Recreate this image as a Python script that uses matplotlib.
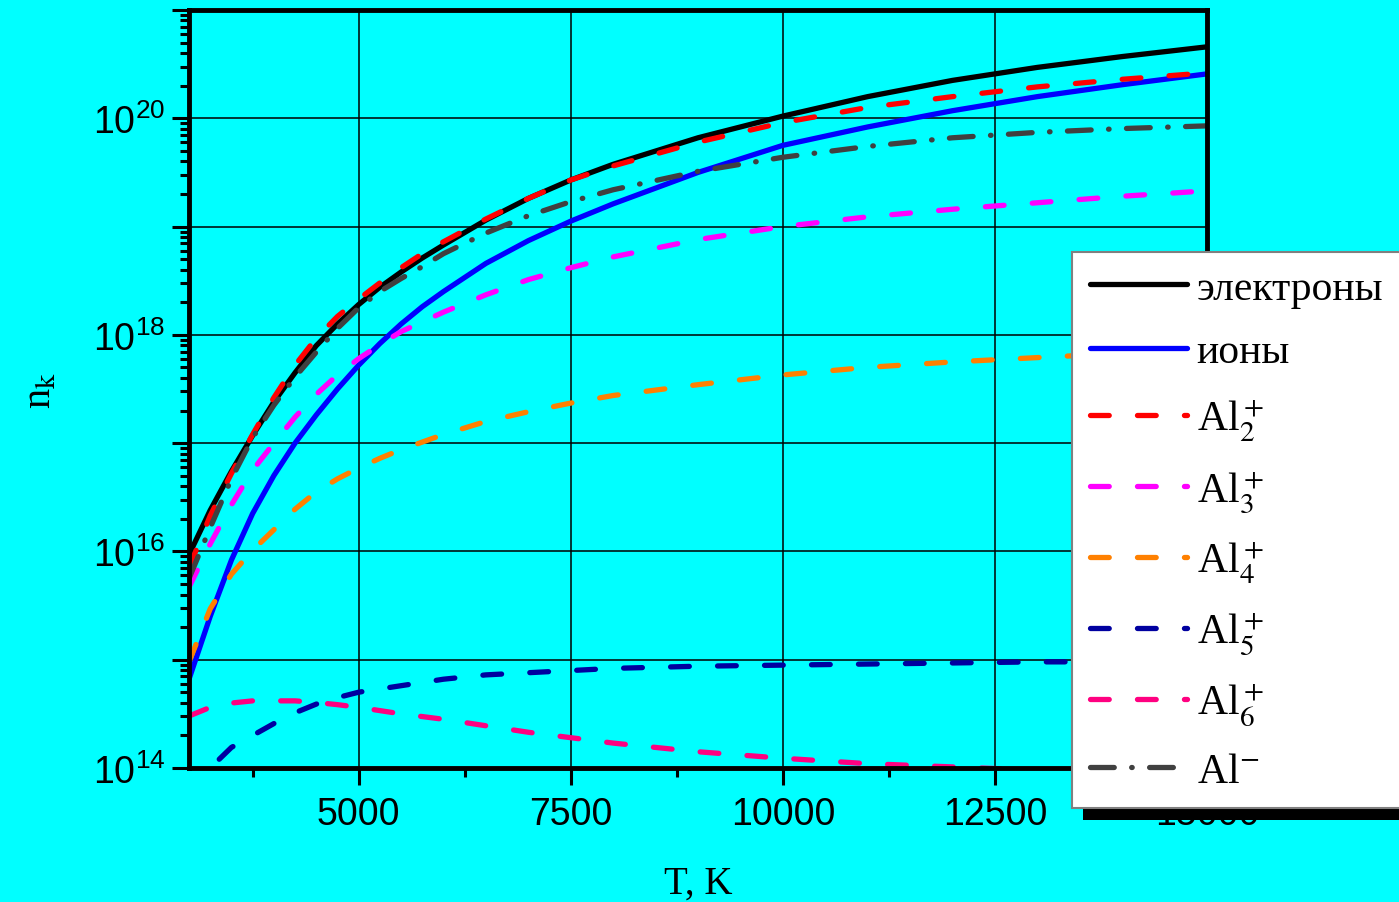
import numpy as np
import matplotlib
matplotlib.use('Agg')
import matplotlib.pyplot as plt
from matplotlib.ticker import FixedLocator, LogLocator, FuncFormatter, NullFormatter
from matplotlib.patches import Rectangle

# Temperature grid, K (denser where the curves bend most)
T = [3000, 3250, 3500, 3750, 4000, 4250, 4500, 4750, 5000, 5250, 5500, 5750, 6000,
     6500, 7000, 7500, 8000, 9000, 10000, 11000, 12000, 13000, 14000, 15000]

# lg(n_k) for every component
lg_electrons = [15.97, 16.38, 16.74, 17.07, 17.38, 17.65, 17.90, 18.10, 18.28, 18.44, 18.58, 18.71, 18.83,
                19.06, 19.26, 19.43, 19.575, 19.82, 20.02, 20.20, 20.35, 20.47, 20.57, 20.66]
lg_ions = [14.82, 15.40, 15.92, 16.35, 16.70, 17.00, 17.26, 17.50, 17.72, 17.92, 18.10, 18.26, 18.40,
           18.66, 18.87, 19.05, 19.21, 19.50, 19.75, 19.92, 20.07, 20.20, 20.31, 20.41]
lg_al2 = [15.85, 16.33, 16.72, 17.08, 17.42, 17.72, 17.97, 18.17, 18.33, 18.48, 18.62, 18.75, 18.86,
          19.07, 19.26, 19.43, 19.56, 19.78, 19.96, 20.10, 20.20, 20.29, 20.36, 20.42]
lg_al3 = [15.67, 16.07, 16.43, 16.75, 17.00, 17.24, 17.45, 17.63, 17.78, 17.91, 18.03, 18.12, 18.21,
          18.37, 18.51, 18.62, 18.72, 18.88, 19.00, 19.09, 19.16, 19.22, 19.28, 19.33]
lg_al4 = [14.98, 15.47, 15.79, 16.01, 16.20, 16.39, 16.55, 16.67, 16.77, 16.86, 16.94, 17.01, 17.08,
          17.20, 17.29, 17.37, 17.44, 17.54, 17.63, 17.70, 17.75, 17.79, 17.83, 17.86]
lg_al5 = [13.75, 14.00, 14.19, 14.30, 14.41, 14.51, 14.59, 14.65, 14.70, 14.73, 14.76, 14.79, 14.82,
          14.86, 14.88, 14.90, 14.92, 14.94, 14.95, 14.96, 14.97, 14.98, 14.98, 14.99]
lg_al6 = [14.48, 14.56, 14.60, 14.62, 14.62, 14.62, 14.605, 14.585, 14.56, 14.53, 14.50, 14.475, 14.45,
          14.39, 14.33, 14.28, 14.23, 14.15, 14.09, 14.04, 14.01, 13.98, 13.96, 13.94]
lg_alneg = [15.75, 16.22, 16.67, 17.05, 17.35, 17.61, 17.84, 18.06, 18.25, 18.40, 18.52, 18.63, 18.75,
            18.94, 19.10, 19.23, 19.34, 19.51, 19.64, 19.74, 19.82, 19.87, 19.905, 19.93]

labels = ['электроны', 'ионы', 'Al$_2^+$', 'Al$_3^+$', 'Al$_4^+$', 'Al$_5^+$', 'Al$_6^+$', 'Al$^{-}$']
colors = ['black', '#0000FF', '#FF0000', '#FF00FF', '#FF8000', '#0000A0', '#FF0080', '#404040']

BG = '#00FFFF'
LW = 3.8
dash = (3.55, 5.35)
dashdot = (4.5, 3.3, 0.1, 3.3)
styles = [None, None, dash, dash, dash, dash, dash, dashdot]

plt.rcParams['mathtext.fontset'] = 'stix'
plt.rcParams['font.family'] = ['Liberation Sans', 'DejaVu Sans']

fig = plt.figure(figsize=(13.99, 9.03), dpi=100, facecolor=BG)
ax = fig.add_axes([189 / 1399, 1 - 769 / 903, (1207 - 189) / 1399, (769 - 11) / 903])
ax.set_facecolor(BG)

series = [lg_electrons, lg_ions, lg_al2, lg_al3, lg_al4, lg_al5, lg_al6, lg_alneg]
for lg, lab, col, st in zip(series, labels, colors, styles):
    n = 10.0 ** np.array(lg)
    if st is None:
        ax.plot(T, n, color=col, lw=LW, solid_capstyle='round',
                solid_joinstyle='round', label=lab)
    else:
        ax.plot(T, n, color=col, lw=LW, dashes=st, dash_capstyle='round',
                dash_joinstyle='round', label=lab)

ax.set_yscale('log')
ax.set_xlim(3000, 15000)
ax.set_ylim(1e14, 1e21)

# x ticks: labelled majors every 2500 K, minors half way
ax.xaxis.set_major_locator(FixedLocator([5000, 7500, 10000, 12500, 15000]))
ax.xaxis.set_minor_locator(FixedLocator([3750, 6250, 8750, 11250, 13750]))
ax.xaxis.set_major_formatter(FuncFormatter(lambda v, p: '%d' % v))

# y ticks: every decade, labels only on even powers
ax.yaxis.set_major_locator(FixedLocator(10.0 ** np.arange(14, 22)))
ax.yaxis.set_minor_locator(LogLocator(base=10, subs=np.arange(2, 10), numticks=20))
ax.yaxis.set_minor_formatter(NullFormatter())


def ylab(v, pos):
    e = int(round(np.log10(v)))
    return r'$\mathregular{10^{%d}}$' % e if e % 2 == 0 else ''


ax.yaxis.set_major_formatter(FuncFormatter(ylab))

ax.tick_params(which='major', direction='out', length=12, width=2.2, labelsize=27, pad=5)
ax.tick_params(which='minor', direction='out', length=6.5, width=2.2)
ax.tick_params(axis='x', which='major', pad=8)
for sp in ax.spines.values():
    sp.set_linewidth(3.5)

ax.grid(True, which='major', color='black', lw=1.1)

ax.set_xlabel('T, K', fontfamily='Liberation Serif', fontsize=28, labelpad=24)
ax.set_ylabel(r'n$_{\mathrm{k}}$', fontfamily='Liberation Serif', fontsize=29, labelpad=24)

leg = fig.legend(loc='upper left', bbox_to_anchor=(1072 / 1399, 1 - 253 / 903),
                 borderaxespad=0, fancybox=False, framealpha=1, edgecolor='#808080',
                 facecolor='white', prop={'family': 'Liberation Serif', 'size': 30},
                 handlelength=2.33, handletextpad=0.24, labelspacing=0.595, borderpad=0.42)
leg.get_frame().set_linewidth(1.5)
leg.set_zorder(6)

# black drop shadow behind the legend box
fig.canvas.draw()
bb = leg.get_frame().get_window_extent()
inv = fig.transFigure.inverted()
(x0, y0), (x1, y1) = inv.transform([(bb.x0 + 11, bb.y0 - 12), (bb.x1 + 11, bb.y1 - 12)])
fig.add_artist(Rectangle((x0, y0), x1 - x0, y1 - y0, transform=fig.transFigure,
                         facecolor='black', edgecolor='none', zorder=5))

fig.savefig('out.png', dpi=100, facecolor=BG)
